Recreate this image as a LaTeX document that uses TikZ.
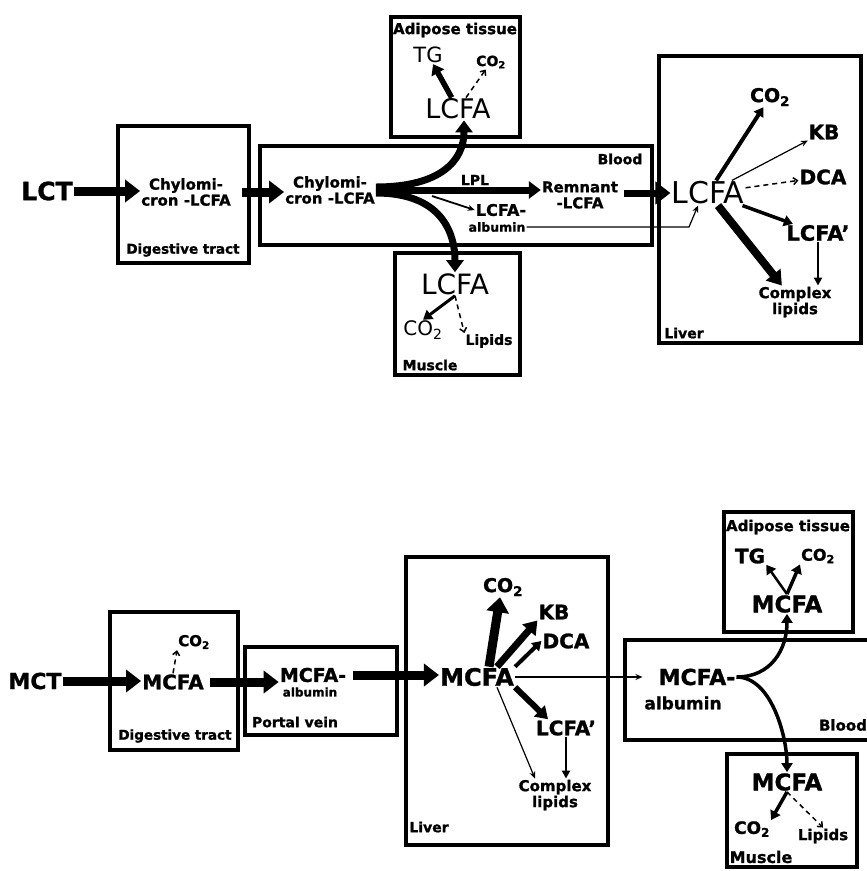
\documentclass[tikz,border=0pt]{standalone}
\usepackage{fontspec}
\setmainfont{DejaVu Sans}[BoldFeatures={FakeBold=1.2}]
\usetikzlibrary{arrows.meta}
\newcommand{\fsz}[1]{\fontsize{#1}{#1}\selectfont}
\tikzset{
  comp/.style={line width=3.2pt},
  tx/.style={inner sep=1pt, align=center, font=\bfseries\fsz{#1}},
  rg/.style={inner sep=1pt, align=center, font=\fsz{#1}},
  bigarrow/.style={line width=9pt, -{Triangle[length=15pt,width=22pt]}},
  forkarrow/.style={line width=7pt, -{Triangle[length=12pt,width=17pt]}},
  midarrow/.style={line width=3.5pt, -{Triangle[length=9pt,width=11pt]}},
  thinarrow/.style={line width=1.2pt, -{Stealth[length=7pt,width=6pt]}},
  dasharrow/.style={line width=1.5pt, dash pattern=on 5pt off 4pt, -{Straight Barb[length=4pt,width=7pt]}}
}
\begin{document}
\begin{tikzpicture}[x=1pt,y=-1pt]
  \useasboundingbox (0,0) rectangle (867,871);

  % 1. Long-chain triglycerides (top)
  \draw[comp] (118,126) rectangle (249,263);   % digestive tract
  \draw[comp] (260,146) rectangle (652,245);   % blood
  \draw[comp] (391,17) rectangle (520,137);    % adipose tissue
  \draw[comp] (395,253) rectangle (520,375);   % muscle
  \draw[comp] (659,56) rectangle (861,343);    % liver

  \node[tx=25] (lct) at (47,191) {LCT};
  \node[tx=15] (chyDig) at (186,192) {Chylomi-\\[1pt]cron -LCFA};
  \node[tx=13.5] (digT) at (183,250) {Digestive tract};
  \node[tx=15] (chyBl) at (330,190) {Chylomi-\\[1pt]cron -LCFA};
  \node[tx=14] (bloodT) at (620,159) {Blood};
  \node[tx=14] (lpl) at (475,180) {LPL};
  \node[tx=15] (remn) at (580,195) {Remnant\\[1pt]-LCFA};
  \node[tx=16] (albA) at (501,210) {LCFA-};
  \node[tx=12.5] (albB) at (497,227) {albumin};

  \node[tx=15] (adiT) at (455,30) {Adipose tissue};
  \node[rg=21] (tgT) at (428,55) {TG};
  \node[tx=14] (co2aT) at (491,62) {CO\textsubscript{2}};
  \node[rg=27] (lcfaAT) at (458,109) {LCFA};

  \node[rg=28] (lcfaMT) at (455,284) {LCFA};
  \node[rg=20] (co2mT) at (423,330) {CO\textsubscript{2}};
  \node[tx=14] (lipT) at (489,341) {Lipids};
  \node[tx=14] (musT) at (430,365) {Muscle};

  \node[rg=30] (lcfaLT) at (708,193) {LCFA};
  \node[tx=19] (co2LT) at (770,97) {CO\textsubscript{2}};
  \node[tx=20] (kbT) at (824,132) {KB};
  \node[tx=20] (dcaT) at (823,177) {DCA};
  \node[tx=21] (lcfapT) at (818,233) {LCFA'};
  \node[tx=15] (cxT) at (795,302) {Complex\\[1pt]lipids};
  \node[tx=14] (livT) at (684,333) {Liver};

  \coordinate (lplFork) at (432,196);
  \coordinate (albKnee) at (689,0);

  \draw[bigarrow] (lct.east) -- (lct.east -| chyDig.west);
  \draw[bigarrow, shorten <=10pt] (chyDig.east) -- (chyDig.east -| chyBl.west);
  \draw[forkarrow] ([yshift=3pt]chyBl.east) .. controls +(65,0) and +(0,40) .. ([xshift=6pt]lcfaAT.south);
  \draw[forkarrow] ([yshift=-3pt]chyBl.east) .. controls +(65,0) and +(0,-40) .. (lcfaMT.north);
  \draw[forkarrow] (chyBl.east) -- (chyBl.east -| remn.west);
  \draw[thinarrow, line width=1.8pt] (lplFork) -- (albA.west);
  \draw[thinarrow] (albB.east) -- (albB.east -| albKnee) -- ([xshift=-10pt]lcfaLT.south);
  \draw[bigarrow, line width=7pt, shorten <=5pt] (remn.east |- lcfaLT.west) -- (lcfaLT.west);

  \draw[midarrow, line width=5.5pt, -{Triangle[length=10pt,width=14pt]}] (lcfaAT) -- (tgT);
  \draw[dasharrow] (lcfaAT) -- (co2aT);
  \draw[midarrow, line width=3pt] (lcfaMT.south) -- (co2mT.north);
  \draw[dasharrow] (lcfaMT.south) -- (lipT.north west);

  \draw[midarrow, line width=4pt] (lcfaLT) -- (co2LT);
  \draw[thinarrow] (lcfaLT) -- (kbT);
  \draw[dasharrow] (lcfaLT) -- (dcaT);
  \draw[midarrow] (lcfaLT) -- (lcfapT);
  \draw[bigarrow, line width=8pt, -{Triangle[length=14pt,width=18pt]}] (lcfaLT) -- (cxT);
  \draw[midarrow, line width=2pt, -{Triangle[length=8pt,width=8pt]}] (lcfapT.south) -- (lcfapT.south |- cxT.north);

  % 2. Medium-chain triglycerides (bottom)
  \draw[comp] (110,612) rectangle (238,750);   % digestive tract
  \draw[comp] (245,647) rectangle (397,735);   % portal vein
  \draw[comp] (406,557) rectangle (608,845);   % liver
  \draw[comp] (625,640) rectangle (890,740);   % blood
  \draw[comp] (724,512) rectangle (853,632);   % adipose tissue
  \draw[comp] (727,754) rectangle (857,867);   % muscle

  \node[tx=22] (mctB) at (35,681) {MCT};
  \node[tx=20] (mcfaDB) at (173,682) {MCFA};
  \node[tx=15] (co2DB) at (194,642) {CO\textsubscript{2}};
  \node[tx=13.5] (digB) at (175,736) {Digestive tract};
  \node[tx=19] (mcfaPB) at (313,675) {MCFA-};
  \node[tx=12] (albPB) at (310,692) {albumin};
  \node[tx=14] (portB) at (295,722) {Portal vein};

  \node[tx=24] (mcfaLB) at (477,677) {MCFA};
  \node[tx=19] (co2LB) at (503,587) {CO\textsubscript{2}};
  \node[tx=20] (kbB) at (554,612) {KB};
  \node[tx=20] (dcaB) at (566,641) {DCA};
  \node[tx=20] (lcfapB) at (566,728) {LCFA'};
  \node[tx=15] (cxB) at (555,795) {Complex\\[1pt]lipids};
  \node[tx=14] (livB) at (429,827) {Liver};

  \node[tx=22] (mcfaAlbB) at (697,677) {MCFA-};
  \node[tx=17] (albBB) at (683,703) {albumin};
  \node[tx=15] (bloodB) at (843,725) {Blood};
  \node[tx=15] (adiB) at (788,527) {Adipose tissue};
  \node[tx=20] (tgB) at (750,556) {TG};
  \node[tx=16] (co2AB) at (818,556) {CO\textsubscript{2}};
  \node[tx=23] (mcfaAB) at (787,604) {MCFA};
  \node[tx=23] (mcfaMB) at (787,782) {MCFA};
  \node[tx=17] (co2MB) at (752,829) {CO\textsubscript{2}};
  \node[tx=15] (lipMB) at (823,836) {Lipids};
  \node[tx=16] (musB) at (761,857) {Muscle};

  \draw[bigarrow] (mctB.east) -- (mctB.east -| mcfaDB.west);
  \draw[dasharrow] (mcfaDB.north) -- (co2DB.south west);
  \draw[bigarrow, shorten <=5pt] (mcfaDB.east) -- (mcfaDB.east -| mcfaPB.west);
  \draw[bigarrow, shorten <=6pt] (mcfaPB.east) -- (mcfaPB.east -| mcfaLB.west);

  \draw[bigarrow] ([xshift=12pt]mcfaLB.north) -- ([xshift=-3pt]co2LB.south);
  \draw[bigarrow, line width=7pt, -{Triangle[length=13pt,width=17pt]}] ([xshift=20pt]mcfaLB.north) -- (kbB.south west);
  \draw[midarrow, line width=4pt] (mcfaLB.north east) -- (dcaB.west);
  \draw[bigarrow, line width=6pt, -{Triangle[length=12pt,width=15pt]}] (mcfaLB.south east) -- ([xshift=-18pt]lcfapB.north);
  \draw[thinarrow] ([xshift=20pt]mcfaLB.south) -- ([xshift=-20pt]cxB.north);
  \draw[midarrow, line width=2pt, -{Triangle[length=8pt,width=8pt]}] (lcfapB.south) -- (lcfapB.south |- cxB.north);
  \draw[thinarrow, line width=2pt, shorten >=15pt] (mcfaLB.east) -- (mcfaLB.east -| mcfaAlbB.west);

  \draw[midarrow] (mcfaAlbB.east) .. controls +(35,0) and +(0,35) .. (mcfaAB.south);
  \draw[midarrow] (mcfaAlbB.east) .. controls +(35,0) and +(0,-35) .. (mcfaMB.north);
  \draw[midarrow, line width=2.5pt] (mcfaAB.north) -- (tgB.south east);
  \draw[midarrow] (mcfaAB.north) -- (co2AB.south west);
  \draw[midarrow] (mcfaMB.south) -- (co2MB.north east);
  \draw[dasharrow] (mcfaMB.south) -- (lipMB.north);
\end{tikzpicture}
\end{document}
